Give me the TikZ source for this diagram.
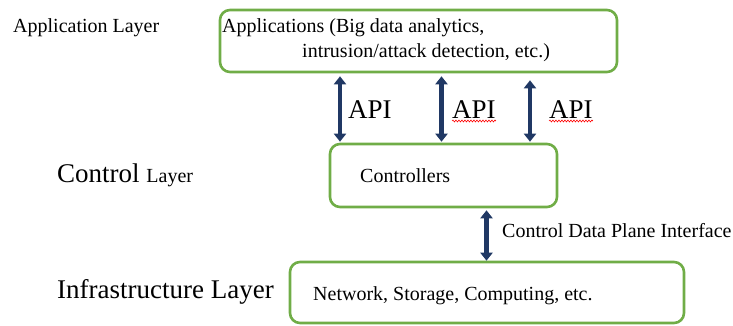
\documentclass[tikz,border=0pt]{standalone}
\usepackage{fontspec}
\setmainfont{Liberation Serif}
\usetikzlibrary{arrows.meta,decorations.pathmorphing}
\definecolor{boxgreen}{HTML}{70AD47}
\definecolor{arrownavy}{HTML}{203864}
\begin{document}
\begin{tikzpicture}[x=1pt, y=-1pt,
	layerbox/.style={draw=boxgreen, line width=2.6pt, rounded corners=10pt, inner sep=0pt},
	txt/.style={anchor=base west, inner sep=0pt, font=\fontsize{20}{24}\selectfont},
	bigtxt/.style={anchor=base west, inner sep=0pt, font=\fontsize{27}{32}\selectfont},
	apiarrow/.style={draw=arrownavy, line width=4.2pt, {Triangle[length=8pt,width=12pt]}-{Triangle[length=8pt,width=12pt]}},
	squiggle/.style={draw=red, line width=0.6pt, decorate, decoration={snake, amplitude=0.9pt, segment length=3pt}}]
	\useasboundingbox (0,0) rectangle (733,326);

	% layer boxes
	\node[layerbox, minimum width=397pt, minimum height=62pt] (app) at (418.5,41) {};
	\node[layerbox, minimum width=227pt, minimum height=63pt] (ctrl) at (443.5,175.5) {};
	\node[layerbox, minimum width=394pt, minimum height=61pt] (infra) at (487,292.5) {};

	% texts
	\node[txt] (applayer) at (13,33) {Application Layer};
	\node[txt] (apps1) at (222,33) {Applications (Big data analytics,};
	\node[txt] (apps2) at (302,58) {intrusion/attack detection, etc.)};
	\node[bigtxt] (ctrllayer) at (57,182) {Control \fontsize{20}{24}\selectfont Layer};
	\node[txt] (ctrls) at (360,182) {Controllers};
	\node[txt] (cdpi) at (502,237) {Control Data Plane Interface};
	\node[bigtxt] (infralayer) at (57,298) {Infrastructure Layer};
	\node[txt] (infras) at (313,300) {Network, Storage, Computing, etc.};

	\node[bigtxt] (apia) at (348,118) {API};
	\node[bigtxt] (apib) at (452,118) {API};
	\node[bigtxt] (apic) at (549,118) {API};
	\draw[squiggle] ([yshift=-3pt]apib.base west) -- ([yshift=-3pt]apib.base east);
	\draw[squiggle] ([yshift=-3pt]apic.base west) -- ([yshift=-3pt]apic.base east);

	% arrows
	\draw[apiarrow] ([xshift=-78.5pt,yshift=-3pt]app.south) -- ([xshift=-103.5pt,yshift=1pt]ctrl.north);
	\draw[apiarrow] ([xshift=23pt,yshift=-3pt]app.south) -- ([xshift=-2pt,yshift=1pt]ctrl.north);
	\draw[apiarrow] ([xshift=111.5pt,yshift=-7pt]app.south) -- ([xshift=86.5pt,yshift=1pt]ctrl.north);
	\draw[apiarrow] ([xshift=43pt,yshift=-2pt]ctrl.south) -- ([xshift=-0.5pt]infra.north);

\end{tikzpicture}
\end{document}
